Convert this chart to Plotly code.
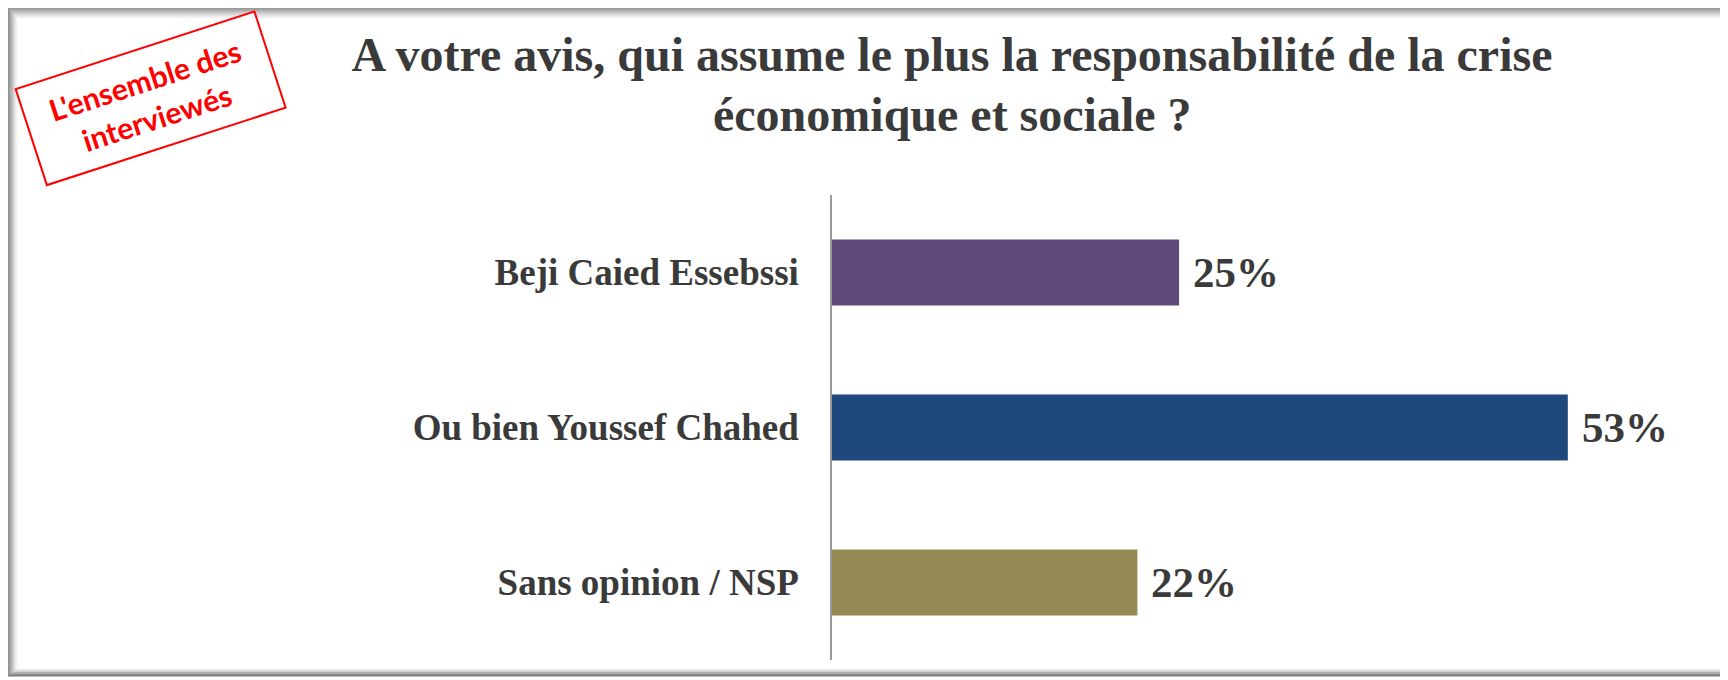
import plotly.graph_objects as go

# ---- data ----
categories = ["Beji Caied Essebssi", "Ou bien Youssef Chahed", "Sans opinion / NSP"]
values = [25, 53, 22]
bar_colors = ["#604A7B", "#1F497D", "#948A54"]
value_labels = ["25%", "53%", "22%"]
title_line1 = "A votre avis, qui assume le plus la responsabilité de la crise"
title_line2 = "économique et sociale ?"
stamp_text = "L'ensemble des<br>interviewés"

# ---- layout geometry (page body has an 8px margin) ----
W, H = 1720, 672
L, R, T, B = 824, 63, 187, 20
PW, PH = W - L - R, H - T - B
TXT = "#3a3a3a"
SERIF = "Liberation Serif"


def px2x(px):
    return (px - L) / PW


def py2y(py):
    return (H - B - py) / PH


fig = go.Figure()
fig.add_trace(go.Bar(
    x=values, y=categories, orientation="h",
    marker=dict(color=bar_colors, line=dict(width=0)),
    hoverinfo="skip", showlegend=False,
))

annotations = []
for c, v, lab in zip(categories, values, value_labels):
    annotations.append(dict(
        x=v, y=c, xref="x", yref="y", text=lab, showarrow=False,
        xanchor="left", yanchor="middle", xshift=12,
        font=dict(family=SERIF, size=43, color=TXT, weight="bold"),
    ))

# second title line
annotations.append(dict(
    x=px2x(944), y=py2y(120), xref="paper", yref="paper",
    text=title_line2, showarrow=False, xanchor="center", yanchor="bottom",
    yshift=-15,
    font=dict(family=SERIF, size=48, color=TXT, weight="bold"),
))

# red stamp
annotations.append(dict(
    x=px2x(142), y=py2y(90), xref="paper", yref="paper",
    text=stamp_text, showarrow=False, textangle=-18,
    xanchor="center", yanchor="middle",
    width=245, height=95, borderpad=2, borderwidth=2,
    bordercolor="#FF0000", bgcolor="white",
    font=dict(family="Lato", size=30, color="#FF0000", weight="bold"),
))

# frame with inner shadow
shapes = []
x0, y0, x1, y1 = 0, 0, 1719, 668
for i in range(12):
    a = 0.7 * (1 - i / 12) ** 1.6
    shapes.append(dict(
        type="rect", xref="paper", yref="paper", layer="below",
        x0=px2x(x0 + i * 0.9), x1=px2x(x1 - i * 0.3), y0=py2y(y0 + i), y1=py2y(y1 - i * 0.7),
        line=dict(color=f"rgba(70,70,70,{a:.3f})", width=1),
    ))

fig.update_layout(
    width=W, height=H,
    margin=dict(l=L, r=R, t=T, b=B),
    paper_bgcolor="white", plot_bgcolor="white",
    bargap=0.574,
    title=dict(
        text=title_line1, xref="container", yref="container",
        x=944 / W, xanchor="center", y=1 - 29 / H, yanchor="top",
        font=dict(family=SERIF, size=48, color=TXT, weight="bold"),
    ),
    xaxis=dict(range=[0, 60], visible=False, fixedrange=True),
    yaxis=dict(
        type="category", categoryorder="array", categoryarray=categories,
        autorange="reversed", showline=True, linecolor="#9a9a9a", linewidth=1.5,
        showgrid=False, zeroline=False, ticks="", ticklabelstandoff=24,
        tickfont=dict(family=SERIF, size=37, color=TXT, weight="bold"),
        fixedrange=True,
    ),
    annotations=annotations,
    shapes=shapes,
)

fig.write_html("out.html")
